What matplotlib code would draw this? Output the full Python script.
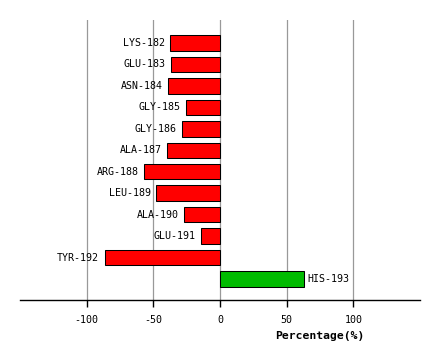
import numpy as np
import matplotlib
matplotlib.use('Agg')
import matplotlib.pyplot as plt

residues = ['LYS-182', 'GLU-183', 'ASN-184', 'GLY-185', 'GLY-186', 'ALA-187',
            'ARG-188', 'LEU-189', 'ALA-190', 'GLU-191', 'TYR-192', 'HIS-193']
percent = [-37.2, -37.0, -38.7, -25.2, -28.2, -39.5,
           -56.7, -47.7, -26.7, -14.0, -86.4, 62.7]
ticks = [-100, -50, 0, 50, 100]

plt.rcParams['font.family'] = ['DejaVu Sans Mono']

fig = plt.figure(figsize=(4.4, 3.6), dpi=100)
ax = fig.add_axes([20/440, 60/360, 400/440, 280/360])

ypos = np.arange(len(residues))
colors = ['#ff0000' if v < 0 else '#00bb00' for v in percent]
ax.barh(ypos, percent, height=0.72, color=colors, edgecolor='black',
        linewidth=0.75, zorder=3)

#---labels next to bar ends---#
for y, v, name in zip(ypos, percent, residues):
    if v < 0:
        ax.annotate(name, (v, y), xytext=(-4, 0), textcoords='offset points',
                    ha='right', va='center', fontsize=7.2)
    else:
        ax.annotate(name, (v, y), xytext=(3, 0), textcoords='offset points',
                    ha='left', va='center', fontsize=7.2)

ax.set_xlim(-150, 150)
ax.set_ylim(11.98, -1.07)
ax.set_xticks(ticks)
ax.set_xticklabels([str(t) for t in ticks])
ax.set_yticks([])
ax.grid(axis='x', color='#999999', linewidth=0.9, zorder=0)
for s in ['top', 'right', 'left']:
    ax.spines[s].set_visible(False)
ax.spines['bottom'].set_linewidth(1.0)
ax.tick_params(axis='x', direction='out', length=5, width=1, pad=5.5, labelsize=7.2)
ax.set_xlabel('Percentage(%)', fontsize=8.2, fontweight='bold')
ax.xaxis.set_label_coords(0.75, -0.11)

fig.savefig('out.png', dpi=100)
